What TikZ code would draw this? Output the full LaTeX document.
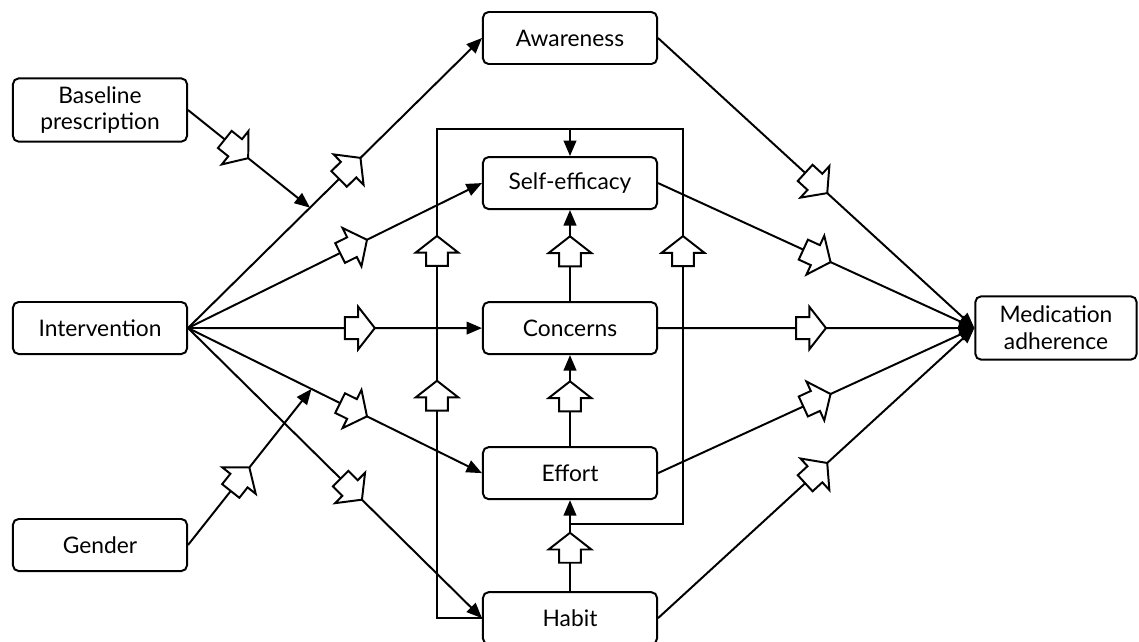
\documentclass[tikz,border=0pt]{standalone}
\usepackage{fontspec}
\setmainfont{Lato}
\usetikzlibrary{arrows.meta, positioning, shapes.arrows}
\tikzset{%
  every path/.style={line width=1.4pt},
    edge/.style={%
        -{Triangle[length=11pt, width=9pt]},
    },
    factor/.style={%
        rectangle,
        draw=black, line width=1.4pt,
        minimum width=4.35cm,
        minimum height=1.3cm,
        rounded corners=4pt,
        align=center,
        font=\fontsize{16.2}{19}\selectfont,
    },
    twoline/.style={%
        minimum height=1.58cm,
    },
    hollow/.style={%
        single arrow,
        draw=black, fill=white, line width=1.4pt,
        inner xsep=0pt, inner ysep=7.1pt,
        minimum height=21.3pt,
        single arrow head extend=7.4pt,
        single arrow tip angle=104,
        sharp corners,
        sloped, allow upside down,
        anchor=center,
    },
    frame/.style={%
        line cap=rect,
    }
}

\begin{document}
\begin{tikzpicture}[x=0.025cm, y=-0.025cm, node distance=2.276cm]
  \useasboundingbox (0,0) rectangle (1139,641);

  \coordinate (mid_top) at (570,38);
  \coordinate (frame_x_left) at (437,129);
  \coordinate (frame_x_right) at (683,129);

  % middle column
  \node [factor] at (mid_top) (awareness) {Awareness};
  \node [factor, below=of awareness] (selfeff) {Self-efficacy};
  \node [factor, below=of selfeff] (concerns) {Concerns};
  \node [factor, below=of concerns] (effort) {Effort};
  \node [factor, below=of effort] (habit) {Habit};

  % left and right
  \node [factor, twoline] at (100,110) (baseline) {Baseline\\prescription};
  \node [factor] at (100,328) (intervention) {Intervention};
  \node [factor] at (100,545) (gender) {Gender};
  \node [factor, twoline, minimum width=4.03cm] at (1056,328) (adherence) {Medication\\adherence};

  % from intervention
  \draw[edge] (intervention.east) -- coordinate[pos=0.415] (mod_base)
    node[hollow, pos=0.54] {} (awareness.west);
  \draw[edge] (intervention.east) -- node[hollow, pos=0.55] {} (selfeff.west);
  \draw[edge] (intervention.east) -- node[hollow, pos=0.57] {} (concerns.west);
  \draw[edge] (intervention.east) -- coordinate[pos=0.42] (mod_gen)
    node[hollow, pos=0.55] {} (effort.west);
  \draw[edge] (intervention.east) -- node[hollow, pos=0.545] {} (habit.west);

  % moderators
  \draw[edge] (baseline.east) -- node[hollow, pos=0.37] {} (mod_base);
  \draw[edge] (gender.east) -- node[hollow, pos=0.4] {} (mod_gen);

  % middle chain
  \draw[edge] (concerns.north) -- node[hollow, pos=0.5] {} (selfeff.south);
  \draw[edge] (effort.north) -- node[hollow, pos=0.5] {} (concerns.south);
  \draw[edge] (habit.north) -- coordinate[pos=0.74] (junc)
    node[hollow, pos=0.43] {} (effort.south);

  % frame round the chain
  \coordinate (frame_bl) at (habit.west -| frame_x_left);
  \coordinate (frame_br) at (junc -| frame_x_right);
  \draw[frame] (habit.west) -- (frame_bl)
    -- node[hollow, pos=0.446] {} node[hollow, pos=0.742] {} (frame_x_left)
    -- (frame_x_right);
  \draw[frame] (junc) -- (frame_br) -- node[hollow, pos=0.68] {} (frame_x_right);
  \draw[edge] (selfeff.north |- frame_x_left) -- (selfeff.north);

  % to adherence
  \draw[edge] (awareness.east) -- node[hollow, pos=0.49] {} (adherence.west);
  \draw[edge] (selfeff.east) -- node[hollow, pos=0.49] {} (adherence.west);
  \draw[edge] (concerns.east) -- node[hollow, pos=0.47] {} (adherence.west);
  \draw[edge] (effort.east) -- node[hollow, pos=0.49] {} (adherence.west);
  \draw[edge] (habit.east) -- node[hollow, pos=0.49] {} (adherence.west);
\end{tikzpicture}
\end{document}
